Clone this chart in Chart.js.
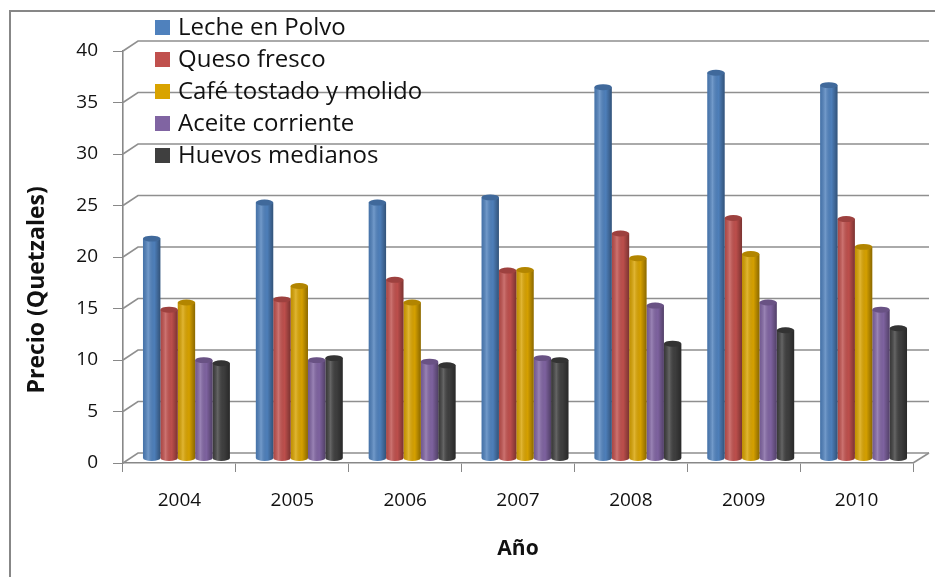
<!DOCTYPE html>
<html lang="es">
<head>
<meta charset="UTF-8">
<title>Precio (Quetzales) por año</title>
<script src="https://cdn.jsdelivr.net/npm/chart.js"></script>
<style>
    body { margin: 0; background: #fff; overflow: hidden; }
    .wrap { position: relative; width: 935px; height: 577px; }
    .marco { position: absolute; left: 9px; top: 10px; width: 1000px; height: 1000px; border: 2px solid #878787; }
    #grafico { position: absolute; left: 0; top: 0; }
    .leyenda { position: absolute; left: 155px; top: 10px; font-family: "Open Sans", sans-serif; font-size: 24px; color: #111; }
    .leyenda div { height: 32px; line-height: 32px; white-space: nowrap; }
    .leyenda span { display: inline-block; width: 15px; height: 15px; margin-right: 8px; vertical-align: 0px; }
</style>
</head>
<body>
<div class="wrap">
    <div class="marco"></div>
    <canvas id="grafico" width="935" height="577"></canvas>
    <div class="leyenda" id="leyenda"></div>
</div>
<script>
    const anios = ['2004', '2005', '2006', '2007', '2008', '2009', '2010'];
    const series = ['Leche en Polvo', 'Queso fresco', 'Café tostado y molido', 'Aceite corriente', 'Huevos medianos'];
    const colores = ['#4f81bd', '#c0504d', '#d9a300', '#8064a2', '#3f3f3f'];

    const leche = [21.3, 24.8, 24.8, 25.3, 36.0, 37.4, 36.2];
    const queso = [14.4, 15.4, 17.3, 18.2, 21.8, 23.3, 23.2];
    const cafe = [15.1, 16.7, 15.1, 18.25, 19.4, 19.8, 20.5];
    const aceite = [9.5, 9.5, 9.35, 9.7, 14.8, 15.1, 14.4];
    const huevos = [9.2, 9.7, 9.0, 9.5, 11.1, 12.4, 12.6];
    const valores = [leche, queso, cafe, aceite, huevos];

    const yTicks = [0, 5, 10, 15, 20, 25, 30, 35, 40];

    // leyenda en html, encima del area del grafico
    const ley = document.getElementById('leyenda');
    series.forEach((s, i) => {
        const d = document.createElement('div');
        d.innerHTML = '<span style="background:' + colores[i] + '"></span>' + s;
        ley.appendChild(d);
    });

    const gris = '#888888';
    const fuente = 'Open Sans';
    const prof = { dx: 15, dy: -10 };

    // paredes y piso en "3D"
    const marco3d = {
        id: 'marco3d',
        beforeDatasetsDraw(chart) {
            const ctx = chart.ctx;
            const y = chart.scales.y;
            const a = chart.chartArea;
            ctx.save();
            ctx.strokeStyle = '#8f8f8f';
            ctx.lineWidth = 1.6;
            yTicks.forEach(v => {
                const py = y.getPixelForValue(v);
                ctx.beginPath();
                ctx.moveTo(a.left, py);
                ctx.lineTo(a.left + prof.dx, py + prof.dy);
                ctx.lineTo(a.right + prof.dx + 1, py + prof.dy);
                ctx.stroke();
            });
            const p0 = y.getPixelForValue(0);
            ctx.beginPath();
            ctx.moveTo(a.right, p0);
            ctx.lineTo(a.right + prof.dx + 1, p0 + prof.dy);
            ctx.stroke();
            ctx.restore();
        }
    };

    // sombreado de cilindros
    const cilindros = {
        id: 'cilindros',
        afterDatasetsDraw(chart) {
            const ctx = chart.ctx;
            chart.data.datasets.forEach((ds, di) => {
                const meta = chart.getDatasetMeta(di);
                meta.data.forEach(el => {
                    const p = el.getProps(['x', 'y', 'base', 'width'], true);
                    const l = p.x - p.width / 2, r = p.x + p.width / 2;
                    const ry = p.width * 0.17;
                    const g = ctx.createLinearGradient(l, 0, r, 0);
                    g.addColorStop(0, 'rgba(0,0,0,0.1)');
                    g.addColorStop(0.3, 'rgba(255,255,255,0.2)');
                    g.addColorStop(0.65, 'rgba(0,0,0,0.02)');
                    g.addColorStop(1, 'rgba(0,0,0,0.36)');
                    ctx.save();
                    // fondo redondeado
                    ctx.beginPath();
                    ctx.ellipse(p.x, p.base, p.width / 2, ry, 0, 0, Math.PI);
                    ctx.fillStyle = colores[di];
                    ctx.fill();
                    ctx.fillStyle = g;
                    ctx.fill();
                    ctx.fillStyle = g;
                    ctx.fillRect(l, p.y, p.width, p.base - p.y);
                    // tapa
                    ctx.beginPath();
                    ctx.ellipse(p.x, p.y, p.width / 2, ry, 0, 0, Math.PI * 2);
                    ctx.fillStyle = colores[di];
                    ctx.fill();
                    ctx.fillStyle = 'rgba(0,0,0,0.18)';
                    ctx.fill();
                    ctx.restore();
                });
            });
        }
    };

    const corrimiento = 7 / 112.9;
    // espacios finales: bajan el titulo rotado como en el original
    const tituloY = 'Precio (Quetzales)' + ' '.repeat(11);

    new Chart(document.getElementById('grafico'), {
        type: 'bar',
        data: {
            labels: anios,
            datasets: series.map((s, i) => ({
                label: s,
                data: valores[i].map((v, k) => ({ x: k, y: v })),
                backgroundColor: colores[i],
                borderWidth: 0,
                xAxisID: 'xb',
                yAxisID: 'yb',
                categoryPercentage: 0.77,
                barPercentage: 1.0
            }))
        },
        options: {
            responsive: false,
            animation: false,
            layout: { padding: { left: 0, top: 51, right: 22, bottom: 0 } },
            plugins: { legend: { display: false }, tooltip: { enabled: false } },
            scales: {
                x: {
                    type: 'category',
                    offset: true,
                    afterFit: s => { s.height = 114; },
                    grid: { display: true, drawOnChartArea: false, tickLength: 9, color: gris, offset: true },
                    border: { display: true, color: gris, width: 1.6 },
                    ticks: { color: '#111', font: { family: fuente, size: 19 }, padding: 17 },
                    title: { display: true, text: 'Año', color: '#111', font: { family: fuente, size: 21, weight: 'bold' }, padding: { top: 0, bottom: 15 } }
                },
                y: {
                    min: 0,
                    max: 40,
                    afterFit: s => { s.width = 123; },
                    ticks: { stepSize: 5, color: '#111', font: { family: fuente, size: 19 }, padding: 15 },
                    grid: { display: true, drawOnChartArea: false, tickLength: 10, color: gris },
                    border: { display: true, color: gris, width: 1.6 },
                    title: { display: true, text: tituloY, color: '#111', font: { family: fuente, size: 23, weight: 'bold' }, padding: { top: 24, bottom: 0 } }
                },
                xb: { type: 'linear', display: false, offset: false, min: -0.5 - corrimiento, max: 6.5 - corrimiento },
                yb: { type: 'linear', display: false, min: -0.485, max: 39.515 }
            }
        },
        plugins: [marco3d, cilindros]
    });
</script>
</body>
</html>
